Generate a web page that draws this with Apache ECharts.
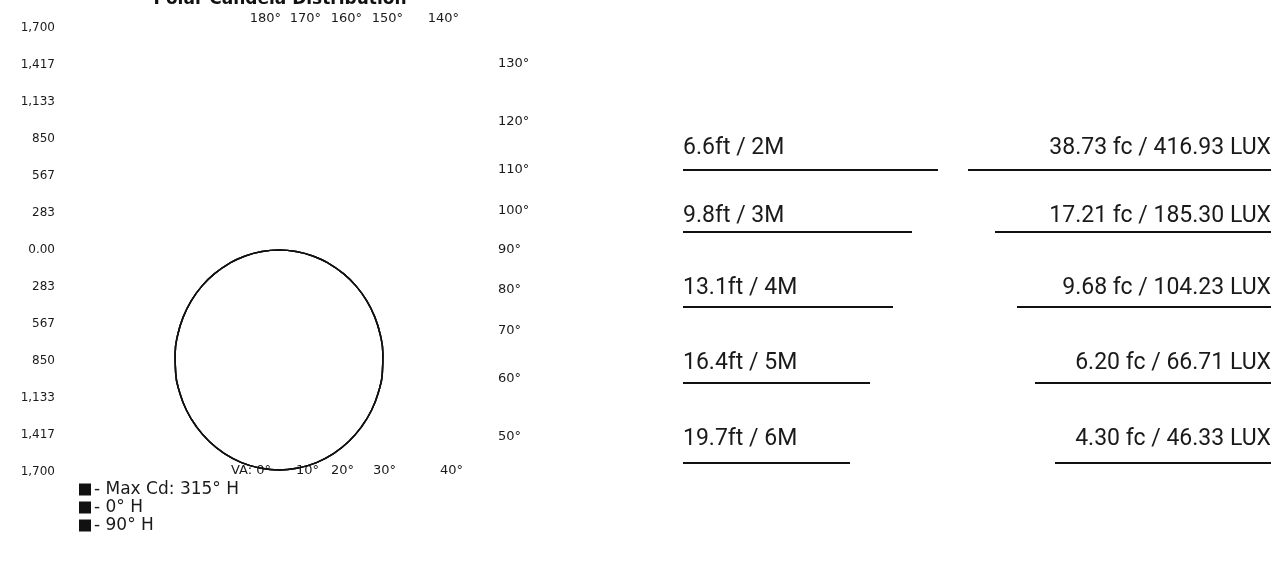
<!DOCTYPE html>
<html>
<head>
<meta charset="utf-8">
<script src="https://cdn.jsdelivr.net/npm/echarts@6/dist/echarts.min.js"></script>
<style>
html,body{margin:0;padding:0;background:#fff;}
#chart{width:1281px;height:563px;}
</style>
</head>
<body>
<div id="chart"></div>
<script>
// ---- data ----
const verticalAngles = [0, 5, 10, 15, 20, 25, 30, 35, 40, 45, 50, 55, 60, 65, 70, 75, 80, 85, 90];
const maxCd315H = [1685, 1676, 1653, 1614, 1561, 1494, 1417, 1328, 1231, 1125, 1013, 896, 775, 650, 522, 393, 263, 130, 0];
const cd0H     = [1685, 1676, 1653, 1614, 1561, 1494, 1417, 1328, 1231, 1125, 1013, 896, 775, 650, 522, 393, 263, 130, 0];
const cd90H    = [1685, 1676, 1653, 1614, 1561, 1494, 1417, 1328, 1231, 1125, 1013, 896, 775, 650, 522, 393, 263, 130, 0];
const seriesNames = ['Max Cd: 315° H', '0° H', '90° H'];
const candelaTicks = ['1,700', '1,417', '1,133', '850', '567', '283', '0.00', '283', '567', '850', '1,133', '1,417', '1,700'];
const topAngleLabels = ['180°', '170°', '160°', '150°', '140°'];
const rightAngleLabels = ['130°', '120°', '110°', '100°', '90°', '80°', '70°', '60°', '50°'];
const rightAngles = [130, 120, 110, 100, 90, 80, 70, 60, 50];
const bottomAngleLabels = ['VA: 0°', '10°', '20°', '30°', '40°'];
const distances = ['6.6ft / 2M', '9.8ft / 3M', '13.1ft / 4M', '16.4ft / 5M', '19.7ft / 6M'];
const illuminance = ['38.73 fc / 416.93 LUX', '17.21 fc / 185.30 LUX', '9.68 fc / 104.23 LUX', '6.20 fc / 66.71 LUX', '4.30 fc / 46.33 LUX'];

// ---- layout ----
const CX = 279, CY = 250, R = 222;
const topLabelRight = [281, 321, 362, 403, 459];
const bottomLabelRight = [271, 319, 354, 396, 463];
const rowTextY = [148, 216, 288, 363, 439];
const rowLineY = [170, 232, 307, 383, 463];
const leftLineEnd = [938, 912, 893, 870, 850];
const rightLineStart = [968, 995, 1017, 1035, 1055];

function polarData(vals) {
  const d = [];
  for (let i = verticalAngles.length - 1; i > 0; i--) d.push([vals[i], 360 - verticalAngles[i]]);
  for (let i = 0; i < verticalAngles.length; i++) d.push([vals[i], verticalAngles[i]]);
  return d;
}

const labelFont = { fontFamily: 'DejaVu Sans', fontSize: 13, fill: '#1a1a1a' };
const graphics = [];

// title (cut off at the top)
graphics.push({ type: 'text', x: 280, y: -9, style: { text: 'Polar Candela Distribution', textAlign: 'center', fontFamily: 'DejaVu Sans', fontWeight: 'bold', fontSize: 17, fill: '#111' } });

topAngleLabels.forEach((t, i) => {
  graphics.push({ type: 'text', x: topLabelRight[i], y: 19, style: Object.assign({ text: t, textAlign: 'right', textVerticalAlign: 'middle' }, labelFont) });
});
rightAngles.forEach((a, i) => {
  const y = CY + R / Math.tan(a * Math.PI / 180);
  graphics.push({ type: 'text', x: 498, y: y, style: Object.assign({ text: rightAngleLabels[i], textAlign: 'left', textVerticalAlign: 'middle' }, labelFont) });
});
bottomAngleLabels.forEach((t, i) => {
  graphics.push({ type: 'text', x: bottomLabelRight[i], y: 471, style: Object.assign({ text: t, textAlign: 'right', textVerticalAlign: 'middle' }, labelFont) });
});

// right table
distances.forEach((t, i) => {
  graphics.push({ type: 'text', x: 683, y: rowTextY[i], style: { text: t, fontFamily: 'Roboto', fontSize: 23, fill: '#1a1a1a', textAlign: 'left', textVerticalAlign: 'middle' } });
  graphics.push({ type: 'text', x: 1271, y: rowTextY[i], style: { text: illuminance[i], fontFamily: 'Roboto', fontSize: 23, fill: '#1a1a1a', textAlign: 'right', textVerticalAlign: 'middle' } });
  graphics.push({ type: 'line', shape: { x1: 683, y1: rowLineY[i], x2: leftLineEnd[i], y2: rowLineY[i] }, style: { stroke: '#111', lineWidth: 2 } });
  graphics.push({ type: 'line', shape: { x1: rightLineStart[i], y1: rowLineY[i], x2: 1271, y2: rowLineY[i] }, style: { stroke: '#111', lineWidth: 2 } });
});

const chart = echarts.init(document.getElementById('chart'), null, { renderer: 'canvas' });
chart.setOption({
  animation: false,
  backgroundColor: '#fff',
  grid: { left: 57, top: 28, width: 444, height: 444 },
  xAxis: { type: 'value', min: 0, max: 1, show: false },
  yAxis: {
    type: 'category', data: candelaTicks, boundaryGap: false, inverse: true,
    axisLine: { show: false }, axisTick: { show: false }, splitLine: { show: false },
    axisLabel: { color: '#1a1a1a', fontFamily: 'DejaVu Sans', fontSize: 12, margin: 2, interval: 0 }
  },
  polar: { center: [CX, CY], radius: R },
  angleAxis: {
    type: 'value', min: 0, max: 360, startAngle: 270, clockwise: false,
    axisLine: { show: false }, axisTick: { show: false }, axisLabel: { show: false }, splitLine: { show: false }
  },
  radiusAxis: {
    type: 'value', min: 0, max: 1700,
    axisLine: { show: false }, axisTick: { show: false }, axisLabel: { show: false }, splitLine: { show: false }
  },
  legend: {
    orient: 'vertical', left: 74, top: 476, itemWidth: 12, itemHeight: 12, itemGap: 1, icon: 'rect',
    data: seriesNames, formatter: '- {name}', selectedMode: false,
    textStyle: { fontFamily: 'DejaVu Sans', fontSize: 17, color: '#1a1a1a', padding: [0, 0, 0, -2] }
  },
  series: [maxCd315H, cd0H, cd90H].map((vals, i) => ({
    name: seriesNames[i], type: 'line', coordinateSystem: 'polar', data: polarData(vals),
    symbol: 'none', smooth: true, color: '#111', lineStyle: { color: '#111', width: 1.5 }
  })),
  graphic: graphics
});
</script>
</body>
</html>
